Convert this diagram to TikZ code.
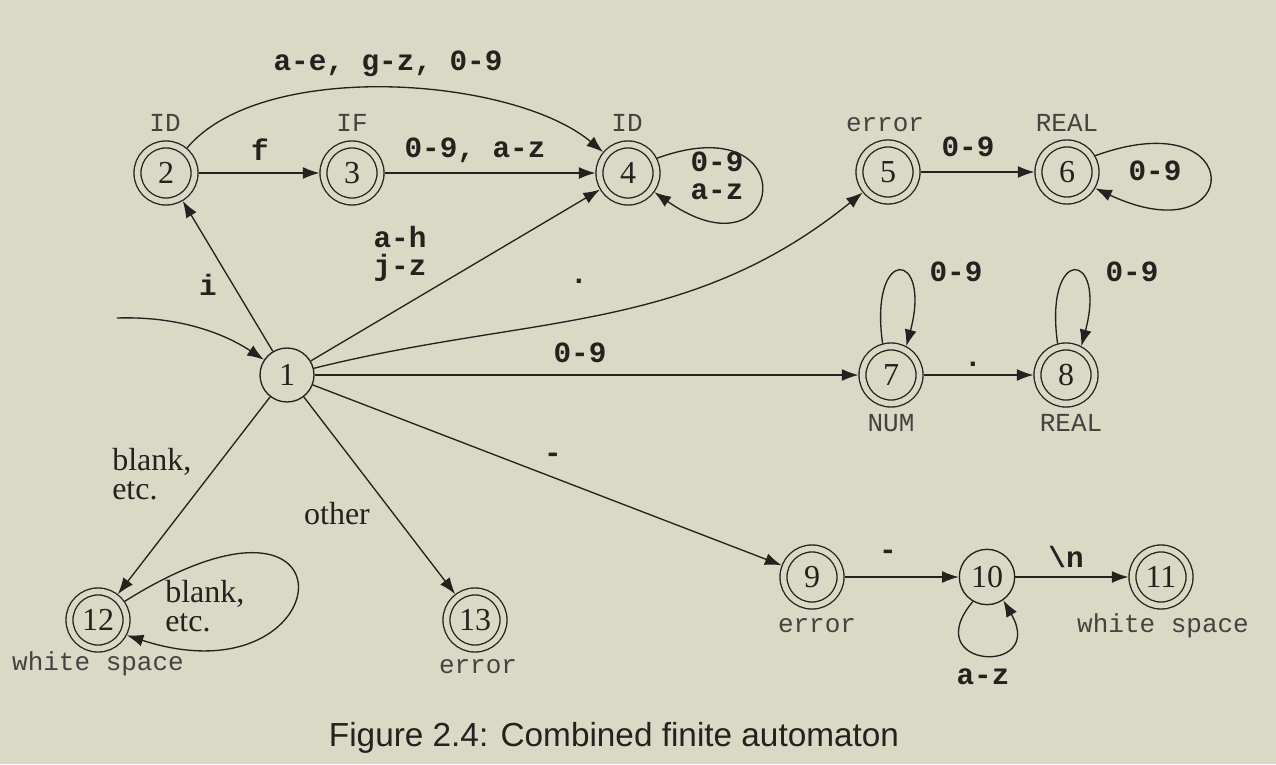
\documentclass[tikz,border=0pt]{standalone}
\usepackage{fontspec}
\setmainfont{Liberation Serif}
\newfontfamily\monof{Liberation Mono}
\newfontfamily\sansf{Liberation Sans}
\usetikzlibrary{arrows.meta}
\definecolor{bgc}{RGB}{218,217,198}
\definecolor{ink}{RGB}{34,34,30}
\begin{document}
\begin{tikzpicture}[x=0.75pt,y=0.75pt,
  st/.style={circle, draw=ink, line width=1pt, minimum size=40.5pt, inner sep=0pt, text=ink, font=\fontsize{24}{24}\selectfont},
  acc/.style={st, minimum size=42.8pt, double=bgc, double distance=4.2pt, outer sep=3pt},
  tag/.style={font=\monof\fontsize{19.5}{20}\selectfont, text=ink!85, inner sep=0pt},
  lab/.style={font=\monof\bfseries\fontsize{22}{21}\selectfont, text=ink, inner sep=0pt, align=center},
  slab/.style={font=\fontsize{24}{22}\selectfont, text=ink, inner sep=0pt, align=left},
  arr/.style={draw=ink, line width=1pt, -{Latex[length=12.5pt,width=9pt]}},
]
\fill[bgc] (0,0) rectangle (1276,764);
\useasboundingbox (0,0) rectangle (1276,764);

% states
\node[st]  (n1)  at (287,389) {1};
\node[acc] (n2)  at (166,591) {2};
\node[acc] (n3)  at (352,591) {3};
\node[acc] (n4)  at (628,591) {4};
\node[acc] (n5)  at (888,592) {5};
\node[acc] (n6)  at (1067,592) {6};
\node[acc] (n7)  at (891,389) {7};
\node[acc] (n8)  at (1066,389) {8};
\node[acc] (n9)  at (812,187) {9};
\node[st, minimum size=41.5pt] (n10) at (987,187) {10};
\node[acc] (n11) at (1161,187) {11};
\node[acc] (n12) at (98,144) {12};
\node[acc] (n13) at (475,144) {13};

% tags
\node[tag] (t2)  at (165,641) {ID};
\node[tag] (t3)  at (352,641) {IF};
\node[tag] (t4)  at (627,641) {ID};
\node[tag] (t5)  at (885,639) {error};
\node[tag] (t6)  at (1067,641) {REAL};
\node[tag] (t7)  at (891,341) {NUM};
\node[tag] (t8)  at (1071,341) {REAL};
\node[tag] (t9)  at (817,138) {error};
\node[tag] (t11) at (1163,138) {white space};
\node[tag] (t12) at (98,100) {white space};
\node[tag] (t13) at (478,97) {error};

% start arrow
\coordinate (init) at (117,446);
\draw[arr] (init) .. controls (180,448) and (225,430) .. (n1);

% transitions
\draw[arr] (n1) -- (n2);
\draw[arr] (n2) -- (n3);
\draw[arr] (n3) -- (n4);
\draw[arr] (n2) to[out=50,in=140,looseness=0.72] (n4);
\draw[arr] (n1) -- (n4);
\draw[arr] (n4.27) .. controls +(20:160) and +(-35:160) .. (n4.-36);
\draw[arr] (n1) to[out=14,in=219] (n5);
\draw[arr] (n5) -- (n6);
\draw[arr] (n6.30) .. controls +(20:165) and +(-25:165) .. (n6.-30);
\draw[arr] (n1) -- (n7);
\draw[arr] (n7.105) .. controls +(98:100) and +(75:100) .. (n7.62);
\draw[arr] (n7) -- (n8);
\draw[arr] (n8.105) .. controls +(98:100) and +(75:100) .. (n8.62);
\draw[arr] (n1) -- (n9);
\draw[arr] (n9) -- (n10);
\draw[arr] (n10) -- (n11);
\draw[arr] (n10.-120) .. controls +(-130:88) and +(-60:88) .. (n10.-55);
\draw[arr] (n1) -- (n12);
\draw[arr] (n12.35) .. controls +(32:285) and +(-18:225) .. (n12.-28);
\draw[arr] (n1) -- (n13);

% edge labels
\node[lab] (l24)   at (388,700) {a-e, g-z, 0-9};
\node[lab] (l23)   at (260,614) {f};
\node[lab] (l34)   at (475,614) {0-9, a-z};
\node[lab] (l44)   at (717,588) {0-9\\a-z};
\node[lab] (l12)   at (208,479) {i};
\node[lab] (l14)   at (400,510) {a-h\\j-z};
\node[lab] (l15)   at (579,483) {.};
\node[lab] (l56)   at (968,617) {0-9};
\node[lab] (l66)   at (1155,593) {0-9};
\node[lab] (l77)   at (956,492) {0-9};
\node[lab] (l88)   at (1132,492) {0-9};
\node[lab] (l78)   at (973,400) {.};
\node[lab] (l17)   at (580,411) {0-9};
\node[lab] (l19)   at (553,306) {-};
\node[lab] (l910)  at (888,209) {-};
\node[lab] (l1011) at (1066,207) {\textbackslash n};
\node[lab] (l1010) at (983,87) {a-z};
\node[slab, anchor=west] (l112) at (112,290) {blank,\\etc.};
\node[slab] (l113) at (337,250) {other};
\node[slab, anchor=west] (l1212) at (165,158) {blank,\\etc.};

% caption
\node[font=\sansf\fontsize{25}{25}\selectfont, text=ink, inner sep=0pt] (cap) at (614,26) {Figure 2.4: Combined finite automaton};
\end{tikzpicture}
\end{document}
